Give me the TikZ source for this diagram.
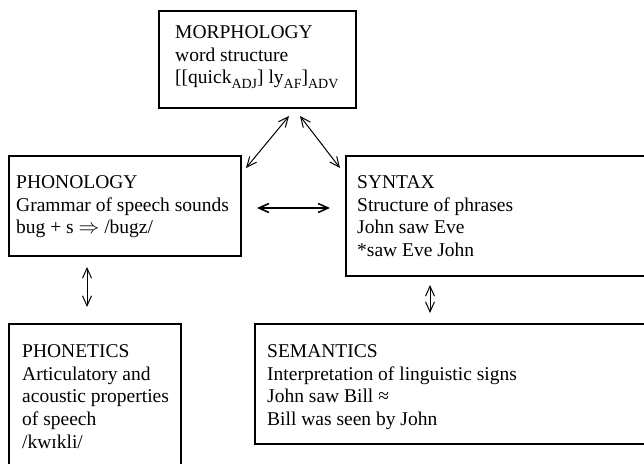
\documentclass[tikz,border=0pt]{standalone}
\usepackage{fontspec}
\setmainfont{Liberation Serif}
\usetikzlibrary{arrows.meta}
\newcommand{\sbx}[1]{\raisebox{-5pt}{\fontsize{14}{14}\selectfont #1}}
\begin{document}
\begin{tikzpicture}[x=1pt,y=-1pt,
  box/.style={draw, line width=1.8pt, inner sep=0pt, anchor=north west},
  txt/.style={anchor=north west, inner sep=0pt, align=left, font=\fontsize{19.5}{22.75}\selectfont},
  link/.style={{Straight Barb[length=10pt,width=9pt]}-{Straight Barb[length=10pt,width=9pt]}, line width=1pt},
  thicklink/.style={link, line width=1.6pt}]
\useasboundingbox (0,0) rectangle (644,463);
\clip (0,0) rectangle (644,463);
% boxes
\node[box, minimum width=197pt, minimum height=97pt] (morph) at (158,10) {};
\node[box, minimum width=232pt, minimum height=100pt] (phon) at (8,155) {};
\node[box, minimum width=320pt, minimum height=120pt] (syn) at (345,155) {};
\node[box, minimum width=172pt, minimum height=160pt] (phonet) at (8,323) {};
\node[box, minimum width=420pt, minimum height=120pt] (sem) at (254,323) {};
% texts
\node[txt] (morphT) at (175,25.2) {MORPHOLOGY\\word structure\\{}[[quick\sbx{ADJ}] ly\sbx{AF}]\sbx{ADV}};
\node[txt] (phonT) at (16,175.2) {PHONOLOGY\\Grammar of speech sounds\\bug + s $\Rightarrow$ /bugz/};
\node[txt] (synT) at (357,175.2) {SYNTAX\\Structure of phrases\\John saw Eve\\*saw Eve John};
\node[txt] (phonetT) at (22,344.2) {PHONETICS\\Articulatory and\\acoustic properties\\of speech\\/kwɪkli/};
\node[txt] (semT) at (267,344.2) {SEMANTICS\\Interpretation of linguistic signs\\John saw Bill ≈\\Bill was seen by John};
% connector ends
\coordinate (m1) at (289,116);
\coordinate (p1) at (246,168);
\coordinate (m2) at (300,116);
\coordinate (s1) at (340,168);
\coordinate (p2) at (257,208);
\coordinate (s2) at (330,208);
\coordinate (p3) at (87,267);
\coordinate (f3) at (87,307);
\coordinate (s4) at (430,285);
\coordinate (e4) at (430,313);
% connectors
\draw[link] (m1) -- (p1);
\draw[link] (m2) -- (s1);
\draw[thicklink] (p2) -- (s2);
\draw[link] (p3) -- (f3);
\draw[link] (s4) -- (e4);
\end{tikzpicture}
\end{document}
